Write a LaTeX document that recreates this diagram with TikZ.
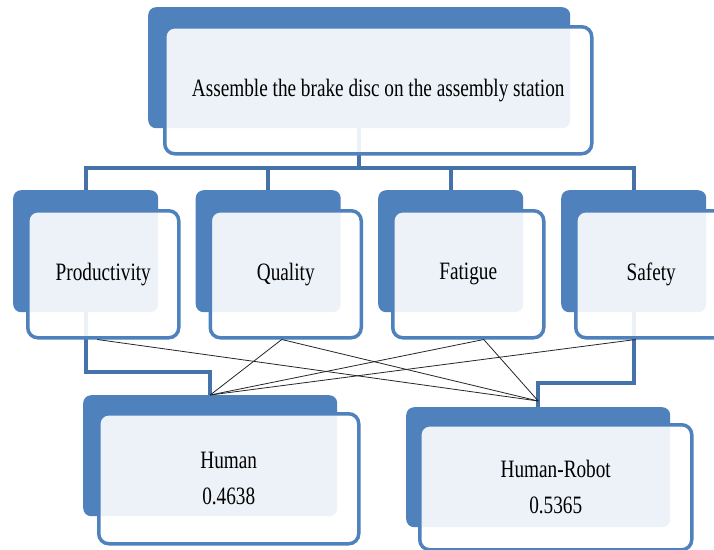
\documentclass[tikz,border=0pt]{standalone}
\usepackage{fontspec}
\setmainfont{Liberation Serif}[FakeStretch=0.77]
\definecolor{boxblue}{HTML}{4F81BD}
\definecolor{linkblue}{HTML}{4672AA}
\begin{document}
\begin{tikzpicture}[x=1pt,y=-1pt,
  backbox/.style={fill=boxblue, rounded corners=8pt, anchor=north west, inner sep=0pt},
  frontbox/.style={draw=boxblue, line width=3.5pt, fill=white, fill opacity=0.9, text opacity=1,
    rounded corners=10pt, anchor=north west, inner sep=0pt, align=center,
    font=\fontsize{25}{36}\selectfont},
  link/.style={draw=linkblue, line width=4pt},
  cross/.style={draw=black!85, line width=0.8pt}]
\useasboundingbox[fill=white] (0,0) rectangle (714,549);

% back plates
\node[backbox, minimum width=422pt, minimum height=121pt] (topB) at (148,7) {};
\node[backbox, minimum width=145pt, minimum height=122pt] (prodB) at (13,190) {};
\node[backbox, minimum width=145pt, minimum height=122pt] (qualB) at (195.5,190) {};
\node[backbox, minimum width=145pt, minimum height=122pt] (fatB) at (378,190) {};
\node[backbox, minimum width=145pt, minimum height=122pt] (safB) at (561,190) {};
\node[backbox, minimum width=254pt, minimum height=121pt] (humB) at (83,395) {};
\node[backbox, minimum width=264pt, minimum height=120pt] (hrB) at (406,407) {};

% hierarchy connectors
\draw[link] (topB.south) -- ++(0,40);
\draw[link] (prodB.north) -- ++(0,-22) -| (safB.north);
\draw[link] (qualB.north) -- ++(0,-22);
\draw[link] (fatB.north) -- ++(0,-22);
\draw[link] (prodB.south) -- ++(0,60) -| (humB.north);
\draw[link] (safB.south) -- ++(0,71) -| (hrB.north);

% front cards with labels
\node[frontbox, minimum width=427pt, minimum height=127pt] (topF) at (163,25)
  {Assemble the brake disc on the assembly station};
\node[frontbox, minimum width=151pt, minimum height=127pt] (prodF) at (26,209) {Productivity};
\node[frontbox, minimum width=151pt, minimum height=127pt] (qualF) at (208.5,209) {Quality};
\node[frontbox, minimum width=151pt, minimum height=127pt] (fatF) at (391,209) {Fatigue};
\node[frontbox, minimum width=151pt, minimum height=127pt] (safF) at (574,209) {Safety};
\node[frontbox, minimum width=260pt, minimum height=130pt] (humF) at (97,412) {Human\\0.4638};
\node[frontbox, minimum width=272pt, minimum height=125pt] (hrF) at (418,423) {Human-Robot\\0.5365};

% criterion-to-alternative links
\coordinate (pOut) at ([xshift=-6pt]prodF.south);
\coordinate (qOut) at ([xshift=-4pt]qualF.south);
\coordinate (fOut) at ([xshift=15.5pt]fatF.south);
\coordinate (sOut) at ([xshift=-15.5pt]safF.south);
\coordinate (hIn) at (humB.north);
\coordinate (rIn) at ([yshift=6pt]hrB.north);
\draw[cross] (pOut) -- (rIn);
\draw[cross] (qOut) -- (hIn);
\draw[cross] (qOut) -- (rIn);
\draw[cross] (fOut) -- (hIn);
\draw[cross] (fOut) -- (rIn);
\draw[cross] (sOut) -- (hIn);
\end{tikzpicture}
\end{document}
